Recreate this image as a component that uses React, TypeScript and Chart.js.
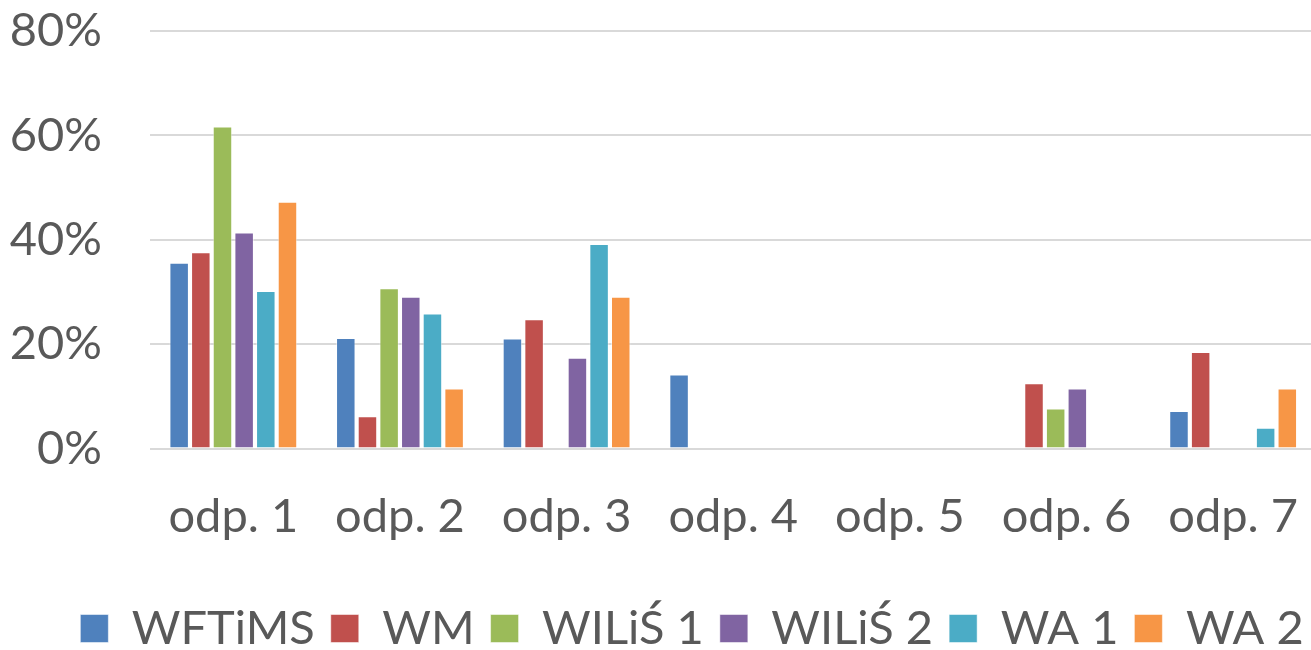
import React, { useEffect, useRef } from "react";
import { Chart, registerables } from "chart.js";

Chart.register(...registerables);

const categories = ["odp. 1", "odp. 2", "odp. 3", "odp. 4", "odp. 5", "odp. 6", "odp. 7"];
const seriesNames = ["WFTiMS", "WM", "WILiŚ 1", "WILiŚ 2", "WA 1", "WA 2"];
const seriesColors = ["#4F81BD", "#C0504D", "#9BBB59", "#8064A2", "#4BACC6", "#F79646"];
const wftims = [35.6, 21.2, 21.1, 14.2, 0, 0, 7.2];
const wm = [37.6, 6.2, 24.8, 0, 0, 12.5, 18.5];
const wilis1 = [61.7, 30.7, 0, 0, 0, 7.7, 0];
const wilis2 = [41.4, 29.1, 17.4, 0, 0, 11.5, 0];
const wa1 = [30.2, 25.9, 39.2, 0, 0, 0, 4.0];
const wa2 = [47.3, 11.5, 29.1, 0, 0, 0, 11.5];
const yTicks = [0, 20, 40, 60, 80];

const seriesValues = [wftims, wm, wilis1, wilis2, wa1, wa2];

const legendShift = {
  id: "legendShift",
  afterLayout(chart: any) {
    const l = chart.legend;
    if (!l) return;
    l.left += 27;
    l.right += 27;
    l.top += 12;
    l.bottom += 12;
  },
};

export default function App() {
  const ref = useRef<HTMLCanvasElement | null>(null);
  useEffect(() => {
    if (!ref.current) return;
    const font = "Lato";
    const fs = 47;
    const chart = new Chart(ref.current, {
      type: "bar",
      data: {
        labels: categories,
        datasets: seriesNames.map((name, i) => ({
          label: name,
          data: seriesValues[i],
          backgroundColor: seriesColors[i],
          borderColor: "rgba(255,255,255,0.5)",
          borderWidth: 1,
          categoryPercentage: 0.78,
          barPercentage: 0.9,
        })),
      },
      plugins: [legendShift],
      options: {
        responsive: false,
        animation: false,
        layout: { padding: { left: 0, top: 31, right: 0, bottom: 0 } },
        plugins: {
          tooltip: { enabled: false },
          legend: {
            position: "bottom",
            labels: {
              color: "#595959",
              font: { family: font, size: fs },
              boxWidth: 28,
              boxHeight: 28,
              padding: 16,
            },
          },
        },
        scales: {
          x: {
            grid: { display: false },
            border: { display: false },
            ticks: {
              color: "#595959",
              font: { family: font, size: fs },
              padding: 32,
              maxRotation: 0,
              autoSkip: false,
            },
          },
          y: {
            min: 0,
            max: 80,
            afterBuildTicks: (axis: any) => {
              axis.ticks = yTicks.map((v) => ({ value: v }));
            },
            afterFit: (axis: any) => {
              axis.width = 150;
              axis.paddingTop = 0;
              axis.paddingBottom = 0;
            },
            grid: { color: "#D9D9D9", lineWidth: 2, drawTicks: false },
            border: { display: false },
            ticks: {
              color: "#595959",
              font: { family: font, size: fs },
              padding: 48,
              callback: (v: any) => v + "%",
            },
          },
        },
      },
    });
    return () => chart.destroy();
  }, []);
  return (
    <div style={{ position: "fixed", left: 0, top: 0, width: 1311, height: 650, overflow: "hidden", background: "#fff" }}>
      <canvas ref={ref} width={1330} height={650} style={{ width: 1330, height: 650, display: "block" }} />
    </div>
  );
}
